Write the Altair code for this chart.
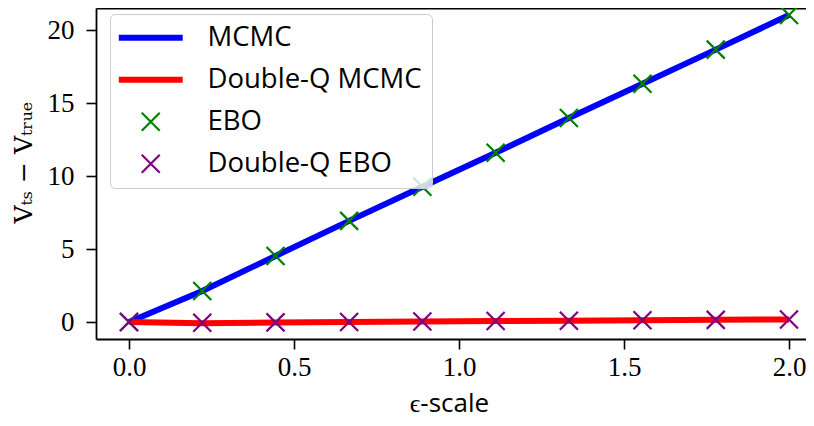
import altair as alt
import pandas as pd

# ---- data ----
eps = [0.0, 0.222, 0.444, 0.667, 0.889, 1.111, 1.333, 1.556, 1.778, 2.0]
mcmc = [0.0, 2.13, 4.53, 6.93, 9.27, 11.6, 13.98, 16.32, 18.66, 21.03]
dq_mcmc = [0.0, -0.08, -0.03, 0.0, 0.04, 0.07, 0.09, 0.12, 0.15, 0.18]
ebo = [0.0, 2.13, 4.53, 6.93, 9.27, 11.6, 13.98, 16.32, 18.66, 21.03]
dq_ebo = [0.0, -0.05, -0.02, 0.01, 0.04, 0.07, 0.09, 0.12, 0.15, 0.18]

series = ["MCMC", "Double-Q MCMC", "EBO", "Double-Q EBO"]
colors = ["#0000ff", "#ff0000", "#008000", "#800080"]
widths = [6, 6, 2.2, 2.2]
x_ticks = [0.0, 0.5, 1.0, 1.5, 2.0]
y_ticks = [0, 5, 10, 15, 20]

line_path = "M-3.55,0L3.55,0"
x_path = "M-1,-1L1,1M-1,1L1,-1"
shapes = [line_path, line_path, x_path, x_path]

lines_df = pd.DataFrame({
    "eps": eps + eps,
    "value": mcmc + dq_mcmc,
    "series": ["MCMC"] * len(eps) + ["Double-Q MCMC"] * len(eps),
})
pts_df = pd.DataFrame({
    "eps": eps + eps,
    "value": ebo + dq_ebo,
    "series": ["EBO"] * len(eps) + ["Double-Q EBO"] * len(eps),
})

x_scale = alt.Scale(domain=[-0.1, 2.0515], nice=False, zero=False)
y_scale = alt.Scale(domain=[-1.16, 21.51], nice=False, zero=False)
color_scale = alt.Scale(domain=series, range=colors)
sw_scale = alt.Scale(type="ordinal", domain=series, range=widths)
shape_scale = alt.Scale(domain=series, range=shapes)

legend = alt.Legend(
    title=None, orient="none", legendX=14, legendY=6,
    fillColor="rgba(255,255,255,0.8)", strokeColor="#cccccc", cornerRadius=5,
    padding=10, labelFont="Open Sans", labelFontSize=27.5, labelColor="black",
    labelLimit=400, labelOffset=43, symbolOffset=17, rowPadding=13,
    symbolSize=324, symbolFillColor="transparent",
)

x_axis = alt.Axis(values=x_ticks, format=".1f", title="ϵ-scale", titleFont="Open Sans",
                  titleFontSize=26, titleFontWeight="normal", titleX=353, titleY=64,
                  titleBaseline="middle", labelPadding=5)
y_axis = alt.Axis(values=y_ticks, title="Vₜₛ − Vₜᵣᵤₑ", titleFont="DejaVu Serif",
                  titleFontSize=25, titleFontWeight="normal", titleX=-73, titleY=154,
                  titleBaseline="middle", labelPadding=12)

lines = alt.Chart(lines_df).mark_line().encode(
    x=alt.X("eps:Q", scale=x_scale, axis=x_axis),
    y=alt.Y("value:Q", scale=y_scale, axis=y_axis),
    color=alt.Color("series:N", scale=color_scale, legend=legend),
    strokeWidth=alt.StrokeWidth("series:N", scale=sw_scale, legend=legend),
    detail="series:N",
)

points = alt.Chart(pts_df).mark_point(filled=False, size=324, opacity=1).encode(
    x=alt.X("eps:Q", scale=x_scale,
            axis=alt.Axis(orient="top", labels=False, ticks=False, title=None, domain=True)),
    y=alt.Y("value:Q", scale=y_scale),
    color=alt.Color("series:N", scale=color_scale, legend=legend),
    shape=alt.Shape("series:N", scale=shape_scale, legend=legend),
    strokeWidth=alt.StrokeWidth("series:N", scale=sw_scale, legend=legend),
)

chart = alt.layer(lines, points).resolve_axis(x="independent").properties(
    width=710, height=331,
    autosize=alt.AutoSizeParams(type="none"),
    padding={"left": 88, "top": 0, "right": 0, "bottom": 79},
).configure_view(stroke=None).configure_axis(
    grid=False, domainColor="black", domainWidth=1.8, tickColor="black",
    tickWidth=1.6, tickSize=10, labelFont="Liberation Serif", labelFontSize=27,
    labelColor="black", titleColor="black",
)

chart.save("out.html", embed_options={"renderer": "svg", "actions": False})
